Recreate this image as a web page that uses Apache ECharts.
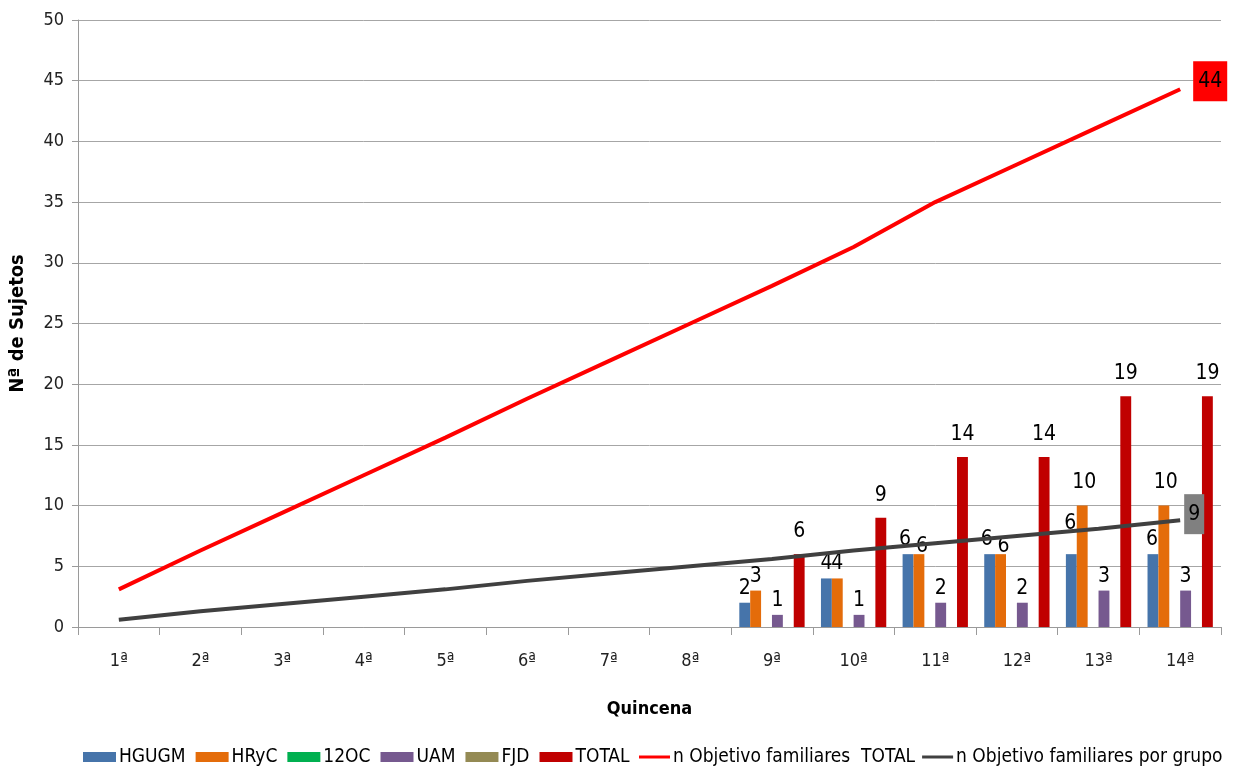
<!DOCTYPE html>
<html><head><meta charset="utf-8">
<script src="https://cdn.jsdelivr.net/npm/echarts@6/dist/echarts.min.js"></script>
<style>html,body{margin:0;padding:0;background:#fff}#c{width:1233px;height:772px}</style>
</head><body><div id="c"></div>
<script>
const categories = ['1ª','2ª','3ª','4ª','5ª','6ª','7ª','8ª','9ª','10ª','11ª','12ª','13ª','14ª'];
const yTicks = {min: 0, max: 50, interval: 5};
const hgugm = [null,null,null,null,null,null,null,null,2,4,6,6,6,6];
const hryc  = [null,null,null,null,null,null,null,null,3,4,6,6,10,10];
const oc12  = [null,null,null,null,null,null,null,null,null,null,null,null,null,null];
const uam   = [null,null,null,null,null,null,null,null,1,1,2,2,3,3];
const fjd   = [null,null,null,null,null,null,null,null,null,null,null,null,null,null];
const total = [null,null,null,null,null,null,null,null,6,9,14,14,19,19];
const objTotal = [3.1,6.3,9.4,12.5,15.6,18.8,21.9,25.0,28.1,31.3,35.0,38.1,41.2,44.3];
const objGrupo = [0.6,1.3,1.9,2.5,3.1,3.8,4.4,5.0,5.6,6.3,6.9,7.5,8.1,8.8];

const FONT = "'Liberation Sans Narrow','DejaVu Sans Condensed','Liberation Sans',sans-serif";
const chart = echarts.init(document.getElementById('c'), null, {renderer:'canvas'});

// label placement tweaks (style only): index -> [dx, dy]
const labelTweaks = {
  HGUGM: {10:[-3,0], 11:[-3,0], 12:[-1,-16], 13:[-1,0]},
  HRyC:  {10:[3,7], 11:[3,7], 12:[2,-9], 13:[2,-9]}
};

function barSeries(name, values, color, dist){
  const tw = labelTweaks[name] || {};
  const data = values.map((v, i) => tw[i] ? {value: v, label: {offset: tw[i]}} : v);
  return {
    name, type:'bar', data, barGap:'0%', barCategoryGap:'20%',
    itemStyle:{color},
    label:{show:true, position:'top', distance:dist, color:'#000', fontFamily:FONT, fontSize:21,
      formatter:p => (p.value==null||p.value===0)?'':String(p.value)}
  };
}

chart.setOption({
  animation:false,
  textStyle:{fontFamily:FONT},
  grid:{left:74, right:12, top:20, bottom:145, containLabel:false},
  legend:[{
    top:747, left:83, padding:0, itemWidth:33, itemHeight:10, itemGap:10,
    textStyle:{fontFamily:FONT, fontSize:19, lineHeight:20, color:'#000', padding:[0,0,0,-2]},
    data:['HGUGM','HRyC','12OC','UAM','FJD','TOTAL'].map(n => ({name:n, icon:'rect'}))
  },{
    top:747, left:639, width:594, padding:0, itemWidth:31, itemHeight:3, itemGap:7,
    textStyle:{fontFamily:FONT, fontSize:19, lineHeight:20, color:'#000', padding:[0,0,0,-2]},
    data:[{name:'n Objetivo familiares  TOTAL', icon:'rect'},{name:'n Objetivo familiares por grupo', icon:'rect'}]
  }],
  xAxis:{
    type:'category', data:categories, boundaryGap:true,
    name:'Quincena', nameLocation:'middle', nameGap:73,
    nameTextStyle:{fontFamily:FONT, fontSize:18, fontWeight:'bold', color:'#000'},
    axisLine:{lineStyle:{color:'#9a9a9a', width:1}},
    axisTick:{show:true, length:8, lineStyle:{color:'#9a9a9a'}},
    axisLabel:{margin:25, fontFamily:FONT, fontSize:18, color:'#222'}
  },
  yAxis:{
    type:'value', min:yTicks.min, max:yTicks.max, interval:yTicks.interval,
    name:'Nª de Sujetos', nameLocation:'middle', nameGap:50,
    nameTextStyle:{fontFamily:FONT, fontSize:20, fontWeight:'bold', color:'#000'},
    axisLine:{show:true, lineStyle:{color:'#9a9a9a', width:1}},
    axisTick:{show:true, length:6, lineStyle:{color:'#9a9a9a'}},
    axisLabel:{margin:14, fontFamily:FONT, fontSize:18, color:'#222'},
    splitLine:{lineStyle:{color:'#a6a6a6', width:1}}
  },
  series:[
    barSeries('HGUGM', hgugm, '#4674AA', 4),
    barSeries('HRyC', hryc, '#E46C0A', 4),
    barSeries('12OC', oc12, '#00B050', 4),
    barSeries('UAM', uam, '#76598F', 4),
    barSeries('FJD', fjd, '#948A54', 4),
    barSeries('TOTAL', total, '#C00000', 12),
    {name:'n Objetivo familiares  TOTAL', type:'line', data:objTotal, symbol:'none', z:5,
      lineStyle:{color:'#FF0000', width:4}, itemStyle:{color:'#FF0000'},
      endLabel:{show:true, distance:13, offset:[0,-8], backgroundColor:'#FF0000', padding:[10,5,9,5],
        color:'#000', fontFamily:FONT, fontSize:21, formatter:p => String(Math.round(p.value))}},
    {name:'n Objetivo familiares por grupo', type:'line', data:objGrupo, symbol:'none', z:5,
      lineStyle:{color:'#404040', width:4}, itemStyle:{color:'#404040'},
      endLabel:{show:true, distance:4, offset:[0,-6], backgroundColor:'#808080', padding:[10,4,9,4],
        color:'#000', fontFamily:FONT, fontSize:21, formatter:p => String(Math.round(p.value))}}
  ]
});
</script></body></html>
